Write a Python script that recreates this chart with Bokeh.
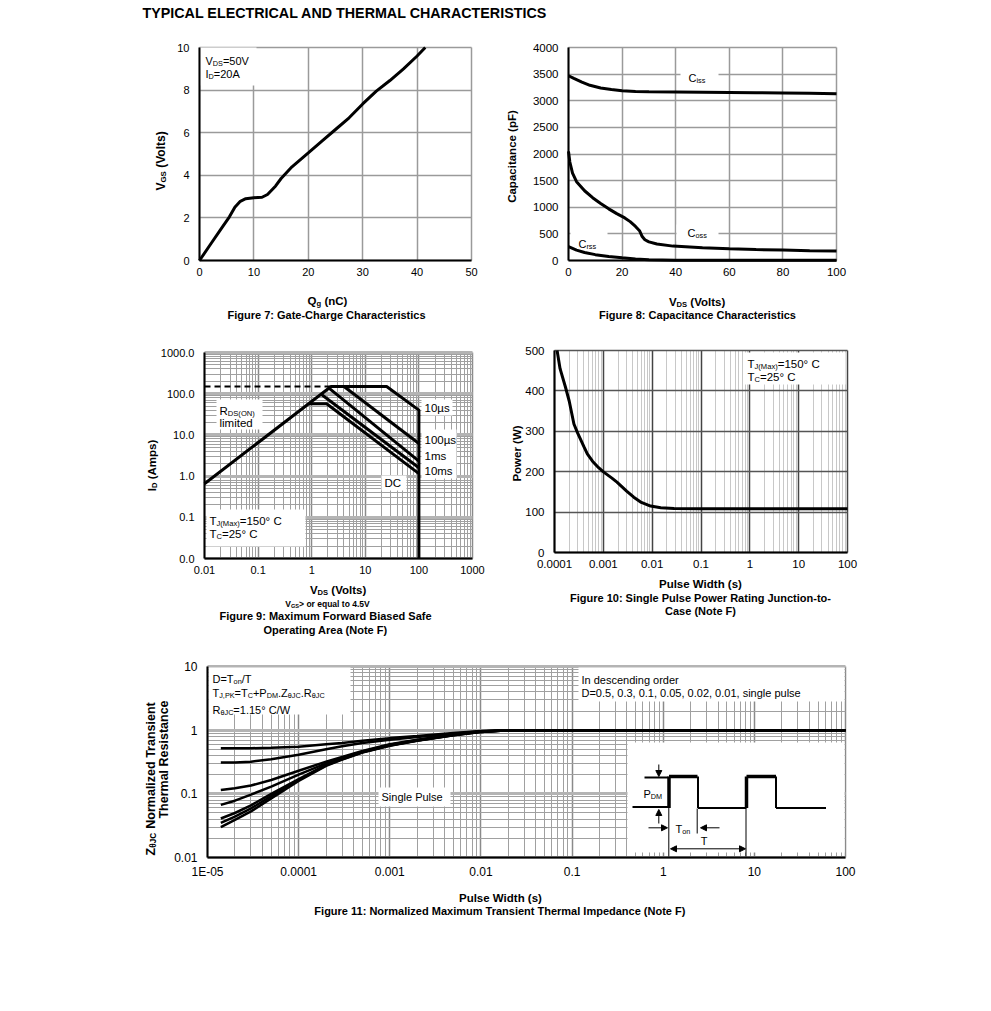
import math
from bokeh.plotting import figure
from bokeh.layouts import column, row
from bokeh.models import Label, FixedTicker, Range1d, Arrow, NormalHead
from bokeh.embed import file_html
from bokeh.resources import INLINE

FONT = "Liberation Sans"

# ---------------- data ----------------
title_text = "TYPICAL ELECTRICAL AND THERMAL CHARACTERISTICS"

# Figure 7: gate charge
qg_nc = [0, 2, 4, 5.5, 6.5, 7.5, 8.5, 10, 11.5, 12.5, 14, 15, 17, 20, 22.5, 25, 27.5, 30, 32.5, 35, 37.5, 40, 41.5]
vgs_v = [0, 0.75, 1.5, 2.05, 2.5, 2.78, 2.9, 2.95, 2.97, 3.1, 3.5, 3.85, 4.4, 5.05, 5.6, 6.15, 6.7, 7.35, 7.95, 8.45, 9.0, 9.6, 10.0]
f7_xticks = [0, 10, 20, 30, 40, 50]
f7_yticks = [0, 2, 4, 6, 8, 10]

# Figure 8: capacitance
ciss_v = [0, 2, 5, 8, 12, 16, 20, 25, 30, 40, 50, 60, 70, 80, 90, 100]
ciss_pf = [3470, 3420, 3350, 3290, 3240, 3210, 3190, 3175, 3170, 3165, 3160, 3155, 3150, 3145, 3140, 3130]
coss_v = [0, 0.5, 1.5, 3, 6, 9, 12, 15, 18, 21, 23, 25, 26.5, 27.5, 28.5, 30, 33, 39, 50, 60, 70, 80, 90, 100]
coss_pf = [2050, 1850, 1640, 1480, 1310, 1180, 1070, 970, 880, 800, 730, 640, 560, 450, 390, 350, 310, 270, 240, 220, 205, 195, 185, 178]
crss_v = [0, 3, 6, 10, 15, 20, 25, 30, 40, 60, 80, 100]
crss_pf = [260, 195, 150, 110, 75, 50, 28, 12, 6, 4, 3, 3]
f8_xticks = [0, 20, 40, 60, 80, 100]
f8_yticks = [0, 500, 1000, 1500, 2000, 2500, 3000, 3500, 4000]

# Figure 9: safe operating area
rds_lim_v = [0.01, 2.3]
rds_lim_a = [150, 150]
soa_10us_v = [0.01, 2.3, 25, 100, 100]
soa_10us_a = [0.65, 150, 150, 40, 0.01]
soa_100us_v = [4, 100]
soa_100us_a = [150, 6.2]
soa_1ms_v = [2.1, 100]
soa_1ms_a = [137, 2.3]
soa_10ms_v = [1.5, 100]
soa_10ms_a = [97, 1.6]
soa_dc_v = [0.88, 1.9, 100]
soa_dc_a = [57, 57, 1.15]
f9_xticks = [0.01, 0.1, 1, 10, 100, 1000]
f9_xlabels = ["0.01", "0.1", "1", "10", "100", "1000"]
f9_yticks = [0.01, 0.1, 1, 10, 100, 1000]
f9_ylabels = ["0.0", "0.1", "1.0", "10.0", "100.0", "1000.0"]

# Figure 10: single pulse power
pw_s = [1.13e-4, 1.3e-4, 1.68e-4, 2e-4, 2.5e-4, 3e-4, 4e-4, 4.7e-4, 6e-4, 8e-4, 1.02e-3, 1.5e-3,
        1.9e-3, 3e-3, 4.2e-3, 6e-3, 9.3e-3, 0.015, 0.028, 0.1, 1, 10, 100]
power_w = [500, 455, 409, 375, 318, 295, 262, 244, 226, 210, 199, 184,
           174, 152, 137, 124, 115, 111, 109, 108, 108, 108, 108]
f10_xticks = [1e-4, 1e-3, 1e-2, 0.1, 1, 10, 100]
f10_xlabels = ["0.0001", "0.001", "0.01", "0.1", "1", "10", "100"]
f10_yticks = [0, 100, 200, 300, 400, 500]

# Figure 11: transient thermal impedance
zt_s = [1.4e-5, 2e-5, 3e-5, 5e-5, 1e-4, 2e-4, 3e-4, 5e-4, 1e-3, 2e-3, 5e-3, 1e-2, 2e-2, 5e-2, 0.1, 1, 10, 100]
z_d05 = [0.52, 0.52, 0.52, 0.53, 0.55, 0.60, 0.63, 0.68, 0.75, 0.81, 0.90, 0.97, 1.0, 1.0, 1.0, 1.0, 1.0, 1.0]
z_d03 = [0.31, 0.31, 0.32, 0.35, 0.41, 0.50, 0.56, 0.63, 0.71, 0.78, 0.88, 0.96, 1.0, 1.0, 1.0, 1.0, 1.0, 1.0]
z_d01 = [0.115, 0.122, 0.135, 0.165, 0.23, 0.32, 0.38, 0.47, 0.60, 0.71, 0.85, 0.95, 1.0, 1.0, 1.0, 1.0, 1.0, 1.0]
z_d005 = [0.067, 0.078, 0.097, 0.13, 0.20, 0.30, 0.36, 0.46, 0.59, 0.70, 0.85, 0.95, 1.0, 1.0, 1.0, 1.0, 1.0, 1.0]
z_d002 = [0.041, 0.05, 0.066, 0.10, 0.17, 0.285, 0.355, 0.455, 0.58, 0.69, 0.84, 0.94, 1.0, 1.0, 1.0, 1.0, 1.0, 1.0]
z_d001 = [0.035, 0.044, 0.059, 0.092, 0.165, 0.28, 0.35, 0.45, 0.575, 0.685, 0.835, 0.94, 1.0, 1.0, 1.0, 1.0, 1.0, 1.0]
z_single = [0.030, 0.039, 0.053, 0.085, 0.16, 0.275, 0.345, 0.445, 0.57, 0.68, 0.83, 0.935, 1.0, 1.0, 1.0, 1.0, 1.0, 1.0]
f11_xticks = [1e-5, 1e-4, 1e-3, 1e-2, 0.1, 1, 10, 100]
f11_xlabels = ["1E-05", "0.0001", "0.001", "0.01", "0.1", "1", "10", "100"]
f11_yticks = [0.01, 0.1, 1, 10]
f11_ylabels = ["0.01", "0.1", "1", "10"]

# ---------------- text metrics (Arial / Liberation Sans) ----------------
_UP = "ABCDEFGHIJKLMNOPQRSTUVWXYZ"
_LO = "abcdefghijklmnopqrstuvwxyz"
REG = dict(zip(_UP, [667, 667, 722, 722, 667, 611, 778, 722, 278, 500, 667, 556, 833, 722, 778, 667, 778, 722, 667, 611, 722, 667, 944, 667, 667, 611]))
REG.update(zip(_LO, [556, 556, 500, 556, 556, 278, 556, 556, 222, 222, 500, 222, 833, 556, 556, 556, 556, 333, 500, 278, 556, 500, 722, 500, 500, 500]))
REG.update({" ": 278, "(": 333, ")": 333, "+": 584, ",": 278, "-": 333, ".": 278, "/": 278, ":": 278, "=": 584, ">": 584, "\u00b0": 400, "\u00b5": 556, "\u03b8": 556})
REG.update({d: 556 for d in "0123456789"})
BOLD = dict(zip(_UP, [722, 722, 722, 722, 667, 611, 778, 722, 278, 556, 722, 611, 833, 722, 778, 667, 778, 722, 667, 611, 722, 667, 944, 667, 667, 611]))
BOLD.update(zip(_LO, [556, 611, 556, 611, 556, 333, 611, 611, 278, 278, 556, 278, 889, 611, 611, 611, 611, 389, 556, 333, 611, 556, 778, 556, 556, 500]))
BOLD.update({" ": 278, "(": 333, ")": 333, "+": 584, ",": 278, "-": 333, ".": 278, "/": 278, ":": 333, "=": 584, ">": 584, "\u00b0": 400, "\u03b8": 611})
BOLD.update({d: 556 for d in "0123456789"})


def tw(text, size, bold):
    table = BOLD if bold else REG
    return sum(table.get(c, 556) for c in text) * size / 1000.0


class Conv:
    """page-pixel -> data conversion for one chart area"""
    def __init__(s, l, r, t, b, x0, x1, y0, y1, xlog=False, ylog=False):
        s.l, s.r, s.t, s.b = l, r, t, b
        s.x0, s.x1, s.y0, s.y1 = x0, x1, y0, y1
        s.xlog, s.ylog = xlog, ylog

    def x(s, px):
        f = (px - s.l) / (s.r - s.l)
        if s.xlog:
            return 10 ** (math.log10(s.x0) + f * (math.log10(s.x1) - math.log10(s.x0)))
        return s.x0 + f * (s.x1 - s.x0)

    def y(s, py):
        f = (s.b - py) / (s.b - s.t)
        if s.ylog:
            return 10 ** (math.log10(s.y0) + f * (math.log10(s.y1) - math.log10(s.y0)))
        return s.y0 + f * (s.y1 - s.y0)


def add_text(p, cv, runs, px, py, size, bold=False, align="left", rot=False):
    SUBF = 0.66
    items = []
    for r in runs:
        if isinstance(r, str):
            t, s = r, False
        else:
            t, s = r
        fs = size * SUBF if s else size
        items.append((t, s, fs, tw(t, fs, bold)))
    total = sum(i[3] for i in items)
    pos = {"left": 0.0, "center": -total / 2.0, "right": -total}[align]
    for t, s, fs, w in items:
        lead = len(t) - len(t.lstrip(" "))
        off = tw(t[:lead], fs, bold)
        shift = 0.27 * size if s else 0.0
        if rot:
            x, y = px + shift, py - pos - off
        else:
            x, y = px + pos + off, py + shift
        p.add_layout(Label(x=cv.x(x), y=cv.y(y), text=t.strip(" "), angle=math.pi / 2 if rot else 0.0,
                           text_font=FONT, text_font_size=f"{fs:.1f}px",
                           text_font_style="bold" if bold else "normal",
                           text_baseline="middle", text_align="left", text_color="black"))
        pos += w


def white_box(p, cv, l, r, t, b):
    p.quad(left=[cv.x(l)], right=[cv.x(r)], top=[cv.y(t)], bottom=[cv.y(b)],
           fill_color="white", line_color=None)


def log_minor(lo_exp, hi_exp):
    return [m * 10.0 ** e for e in range(lo_exp, hi_exp) for m in range(2, 10)]


def make_fig(cv, px0, py0, w, h, xlog, ylog, xticks, yticks, xlabels=None, ylabels=None,
             xminor=None, yminor=None, tick_size="11px"):
    # the frame covers the whole canvas; the chart area is placed through the ranges
    p = figure(width=w, height=h,
               x_range=Range1d(cv.x(px0), cv.x(px0 + w)),
               y_range=Range1d(cv.y(py0 + h), cv.y(py0)),
               x_axis_type="log" if xlog else "linear", y_axis_type="log" if ylog else "linear",
               output_backend="svg", toolbar_location=None,
               min_border_left=0, min_border_right=0, min_border_top=0, min_border_bottom=0)
    p.outline_line_color = None
    p.background_fill_color = "white"
    p.border_fill_color = "white"
    p.xaxis.ticker = FixedTicker(ticks=xticks, minor_ticks=xminor or [])
    p.yaxis.ticker = FixedTicker(ticks=yticks, minor_ticks=yminor or [])
    if xlabels:
        p.xaxis.major_label_overrides = {t: l for t, l in zip(xticks, xlabels)}
    if ylabels:
        p.yaxis.major_label_overrides = {t: l for t, l in zip(yticks, ylabels)}
    p.xaxis.fixed_location = cv.y0
    p.xaxis.bounds = (cv.x0, cv.x1)
    p.yaxis.fixed_location = cv.x0
    p.yaxis.bounds = (cv.y0, cv.y1)
    p.xgrid.bounds = (cv.x0, cv.x1)
    p.xgrid.cross_bounds = (cv.y0, cv.y1)
    p.ygrid.bounds = (cv.y0, cv.y1)
    p.ygrid.cross_bounds = (cv.x0, cv.x1)
    for ax in (p.xaxis, p.yaxis):
        ax.axis_line_color = "black"
        ax.axis_line_width = 2
        ax.major_tick_line_color = None
        ax.minor_tick_line_color = None
        ax.major_tick_out = 0
        ax.major_tick_in = 0
        ax.minor_tick_out = 0
        ax.minor_tick_in = 0
        ax.major_label_text_font = FONT
        ax.major_label_text_font_size = tick_size
        ax.major_label_text_color = "black"
    p.xaxis.major_label_standoff = 7
    p.yaxis.major_label_standoff = 10
    return p


AXF = 11.5   # axis-title size
CAPF = 11    # caption size

# ---------------- title strip ----------------
pt = figure(width=983, height=26, x_range=Range1d(0, 983), y_range=Range1d(26, 0),
            output_backend="svg", toolbar_location=None, x_axis_location=None, y_axis_location=None,
            min_border_left=0, min_border_right=0, min_border_top=0, min_border_bottom=0)
pt.grid.visible = False
pt.outline_line_color = None
pt.quad(left=[0], right=[983], top=[0], bottom=[26], fill_color="white", line_color=None)
pt.add_layout(Label(x=142, y=12, text=title_text, text_font=FONT, text_font_size="14.3px",
                    text_font_style="bold", text_baseline="alphabetic", text_align="left",
                    text_color="black"))

# ---------------- Figure 7 ----------------
c7 = Conv(199, 471, 47, 260, 0, 50, 0, 10)
p7 = make_fig(c7, 0, 26, 490, 314, False, False, f7_xticks, f7_yticks, tick_size="11px")
for g in (p7.xgrid, p7.ygrid):
    g.grid_line_color = "#9a9a9a"
    g.grid_line_width = 1.5
white_box(p7, c7, 199, 256, 47, 85)
p7.line(qg_nc, vgs_v, line_color="black", line_width=3)
add_text(p7, c7, ["V", ("DS", 1), "=50V"], 205, 60, 11)
add_text(p7, c7, ["I", ("D", 1), "=20A"], 205, 73, 11)
add_text(p7, c7, ["V", ("GS", 1), " (Volts)"], 160, 160, 12, bold=True, align="center", rot=True)
add_text(p7, c7, ["Q", ("g", 1), " (nC)"], 327, 300, AXF, bold=True, align="center")
add_text(p7, c7, ["Figure 7: Gate-Charge Characteristics"], 326, 314, CAPF, bold=True, align="center")

# ---------------- Figure 8 ----------------
c8 = Conv(568, 836, 47, 260, 0, 100, 0, 4000)
p8 = make_fig(c8, 490, 26, 493, 314, False, False, f8_xticks, f8_yticks, tick_size="11.5px")
for g in (p8.xgrid, p8.ygrid):
    g.grid_line_color = "#9a9a9a"
    g.grid_line_width = 1.5
white_box(p8, c8, 680, 718, 66, 86)
white_box(p8, c8, 676, 718, 224, 241)
white_box(p8, c8, 570, 607, 231, 252)
p8.line(ciss_v, ciss_pf, line_color="black", line_width=3)
p8.line(coss_v, coss_pf, line_color="black", line_width=3)
p8.line(crss_v, crss_pf, line_color="black", line_width=3)
add_text(p8, c8, ["C", ("iss", 1)], 688, 77, 11)
add_text(p8, c8, ["C", ("oss", 1)], 687, 232, 11)
add_text(p8, c8, ["C", ("rss", 1)], 578, 243, 11)
add_text(p8, c8, ["Capacitance (pF)"], 511, 156, AXF, bold=True, align="center", rot=True)
add_text(p8, c8, ["V", ("DS", 1), " (Volts)"], 697, 301, AXF, bold=True, align="center")
add_text(p8, c8, ["Figure 8: Capacitance Characteristics"], 697, 314, CAPF, bold=True, align="center")

# ---------------- Figure 9 ----------------
c9 = Conv(204, 472, 352, 558, 0.01, 1000, 0.01, 1000, xlog=True, ylog=True)
p9 = make_fig(c9, 0, 340, 490, 310, True, True, f9_xticks, f9_yticks, f9_xlabels, f9_ylabels,
              xminor=log_minor(-2, 3), yminor=log_minor(-2, 3), tick_size="11px")
p9.xgrid.grid_line_color = "#8a8a8a"
p9.xgrid.grid_line_width = 1.5
p9.xgrid.minor_grid_line_color = "#a0a0a0"
p9.xgrid.minor_grid_line_width = 1
p9.ygrid.grid_line_color = "#b4b4b4"
p9.ygrid.grid_line_width = 3
p9.ygrid.minor_grid_line_color = "#a0a0a0"
p9.ygrid.minor_grid_line_width = 1
white_box(p9, c9, 216, 262, 399, 429)
white_box(p9, c9, 421, 452, 399, 415)
white_box(p9, c9, 421, 456, 429, 478)
white_box(p9, c9, 381, 406, 475, 490)
white_box(p9, c9, 206, 305, 509, 546)
p9.line(rds_lim_v, rds_lim_a, line_color="black", line_width=2, line_dash="6 4")
for xs, ys in ((soa_10us_v, soa_10us_a), (soa_100us_v, soa_100us_a), (soa_1ms_v, soa_1ms_a),
               (soa_10ms_v, soa_10ms_a), (soa_dc_v, soa_dc_a)):
    p9.line(xs, ys, line_color="black", line_width=3)
add_text(p9, c9, ["R", ("DS(ON)", 1)], 219, 410, 11.5)
add_text(p9, c9, ["limited"], 219, 422, 11.5)
add_text(p9, c9, ["10\u00b5s"], 424, 407, 11.5)
add_text(p9, c9, ["100\u00b5s"], 424, 439, 11.5)
add_text(p9, c9, ["1ms"], 424, 455, 11.5)
add_text(p9, c9, ["10ms"], 424, 470, 11.5)
add_text(p9, c9, ["DC"], 384, 482, 11.5)
add_text(p9, c9, ["T", ("J(Max)", 1), "=150\u00b0 C"], 209, 520, 11.5)
add_text(p9, c9, ["T", ("C", 1), "=25\u00b0 C"], 209, 533, 11.5)
add_text(p9, c9, ["I", ("D", 1), " (Amps)"], 151, 465, AXF, bold=True, align="center", rot=True)
add_text(p9, c9, ["V", ("DS", 1), " (Volts)"], 338, 589, AXF, bold=True, align="center")
add_text(p9, c9, ["V", ("GS", 1), "> or equal to 4.5V"], 327, 603, 8.5, bold=True, align="center")
add_text(p9, c9, ["Figure 9: Maximum Forward Biased Safe"], 325, 615, CAPF, bold=True, align="center")
add_text(p9, c9, ["Operating Area (Note F)"], 325, 629, CAPF, bold=True, align="center")

# ---------------- Figure 10 ----------------
c10 = Conv(554, 847, 350, 552, 1e-4, 100, 0, 500, xlog=True)
p10 = make_fig(c10, 490, 340, 493, 310, True, False, f10_xticks, f10_yticks, f10_xlabels,
               xminor=log_minor(-4, 2), tick_size="11.5px")
p10.xgrid.grid_line_color = "#444444"
p10.xgrid.grid_line_width = 1.5
p10.xgrid.minor_grid_line_color = "#c8c8c8"
p10.xgrid.minor_grid_line_width = 1
p10.ygrid.grid_line_color = "#555555"
p10.ygrid.grid_line_width = 1.5
p10.ygrid.bounds = (0, 450)
white_box(p10, c10, 743, 845, 352, 384)
p10.line(pw_s, power_w, line_color="black", line_width=3)
add_text(p10, c10, ["T", ("J(Max)", 1), "=150\u00b0 C"], 747, 363, 11.5)
add_text(p10, c10, ["T", ("C", 1), "=25\u00b0 C"], 747, 376, 11.5)
add_text(p10, c10, ["Power (W)"], 516, 453, AXF, bold=True, align="center", rot=True)
add_text(p10, c10, ["Pulse Width (s)"], 700, 583, AXF, bold=True, align="center")
add_text(p10, c10, ["Figure 10: Single Pulse Power Rating Junction-to-"], 700, 597, CAPF, bold=True, align="center")
add_text(p10, c10, ["Case (Note F)"], 700, 610, CAPF, bold=True, align="center")

# ---------------- Figure 11 ----------------
c11 = Conv(207, 845, 666, 857, 1e-5, 100, 0.01, 10, xlog=True, ylog=True)
p11 = make_fig(c11, 0, 650, 983, 280, True, True, f11_xticks, f11_yticks, f11_xlabels, f11_ylabels,
               xminor=log_minor(-5, 2), yminor=log_minor(-2, 1), tick_size="12px")
p11.xgrid.grid_line_color = "#8a8a8a"
p11.xgrid.grid_line_width = 1.5
p11.xgrid.minor_grid_line_color = "#a0a0a0"
p11.xgrid.minor_grid_line_width = 1
p11.ygrid.grid_line_color = "#b4b4b4"
p11.ygrid.grid_line_width = 3
p11.ygrid.minor_grid_line_color = "#a0a0a0"
p11.ygrid.minor_grid_line_width = 1
white_box(p11, c11, 208, 350, 667, 714)
white_box(p11, c11, 578, 844, 667, 701)
white_box(p11, c11, 378, 450, 787, 806)
white_box(p11, c11, 627, 844, 742, 852)
for zs in (z_d05, z_d03, z_d01, z_d005, z_d002, z_d001, z_single):
    p11.line(zt_s, zs, line_color="black", line_width=2.5)
add_text(p11, c11, ["D=T", ("on", 1), "/T"], 212, 678, 11)
add_text(p11, c11, ["T", ("J,PK", 1), "=T", ("C", 1), "+P", ("DM", 1), ".Z", ("\u03b8JC", 1), ".R", ("\u03b8JC", 1)], 212, 692, 11)
add_text(p11, c11, ["R", ("\u03b8JC", 1), "=1.15\u00b0 C/W"], 212, 709, 11)
add_text(p11, c11, ["In descending order"], 581, 679, 11)
add_text(p11, c11, ["D=0.5, 0.3, 0.1, 0.05, 0.02, 0.01, single pulse"], 581, 692, 11)
add_text(p11, c11, ["Single Pulse"], 381, 796, 11)
add_text(p11, c11, ["Z", ("\u03b8JC", 1), " Normalized Transient"], 150, 778, 12.5, bold=True, align="center", rot=True)
add_text(p11, c11, ["Thermal Resistance"], 163, 759, 12.5, bold=True, align="center", rot=True)
add_text(p11, c11, ["Pulse Width (s)"], 500, 897, AXF, bold=True, align="center")
add_text(p11, c11, ["Figure 11: Normalized Maximum Transient Thermal Impedance (Note F)"], 500, 910, CAPF, bold=True, align="center")


# inset pulse diagram (page-pixel geometry mapped into the chart)
def seg(p, cv, x0, y0, x1, y1, w):
    p.line([cv.x(x0), cv.x(x1)], [cv.y(y0), cv.y(y1)], line_color="black", line_width=w)


seg(p11, c11, 632, 806.5, 668.5, 806.5, 2)
seg(p11, c11, 668.5, 807.5, 668.5, 776, 3.5)
seg(p11, c11, 668.5, 776, 697, 776, 3.5)
seg(p11, c11, 697.5, 776, 697.5, 807.5, 2)
seg(p11, c11, 697.5, 807.5, 746, 807.5, 2)
seg(p11, c11, 746, 807.5, 746, 776, 3.5)
seg(p11, c11, 746, 776, 775.5, 776, 3.5)
seg(p11, c11, 775.5, 776, 775.5, 807.5, 2)
seg(p11, c11, 775.5, 807.5, 825.5, 807.5, 2)
seg(p11, c11, 644, 777, 668, 777, 2)
seg(p11, c11, 668.3, 807, 668.3, 856, 1)
seg(p11, c11, 745.5, 808, 745.5, 856, 1)
seg(p11, c11, 696.7, 808, 696.7, 833, 1)


def arrow(p, cv, x0, y0, x1, y1, both=False):
    p.add_layout(Arrow(x_start=cv.x(x0), y_start=cv.y(y0), x_end=cv.x(x1), y_end=cv.y(y1),
                       line_color="black", line_width=1,
                       end=NormalHead(size=6, fill_color="black", line_color="black"),
                       start=NormalHead(size=6, fill_color="black", line_color="black") if both else None))


arrow(p11, c11, 658.3, 764, 658.3, 776)
arrow(p11, c11, 658.3, 823, 658.3, 809)
arrow(p11, c11, 648, 827.3, 667, 827.3)
arrow(p11, c11, 719, 827.3, 700, 827.3)
arrow(p11, c11, 670, 848.3, 745, 848.3, both=True)
add_text(p11, c11, ["P", ("DM", 1)], 643, 793, 11)
add_text(p11, c11, ["T", ("on", 1)], 675, 828, 11)
add_text(p11, c11, ["T"], 703.5, 840, 11, align="center")

layout = column(pt, row(p7, p8), row(p9, p10), p11)
open("out.html", "w").write(file_html(layout, INLINE))
